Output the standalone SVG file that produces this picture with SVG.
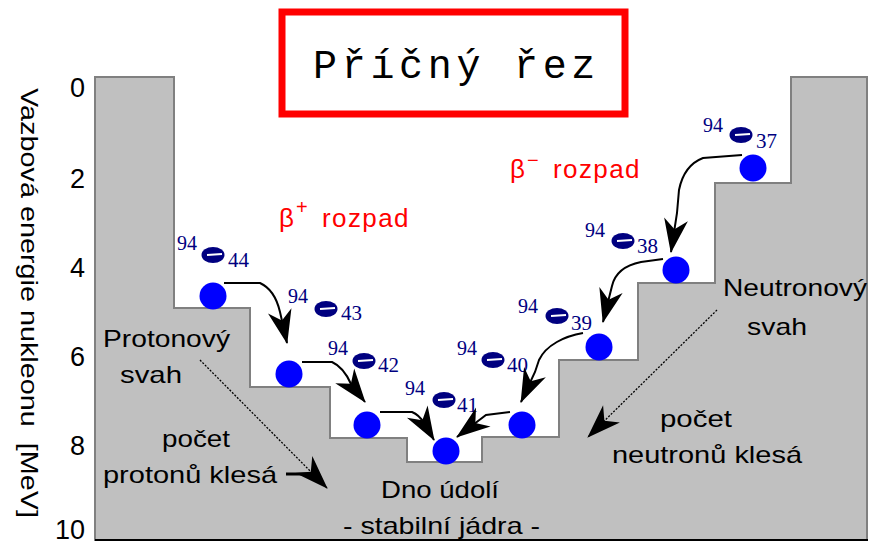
<svg xmlns="http://www.w3.org/2000/svg" width="872" height="544" viewBox="0 0 872 544">
<style>
.lbl{font-family:"Liberation Sans",Arial,sans-serif;font-size:24px;fill:#000}
.red{font-family:"Liberation Sans",Arial,sans-serif;font-size:26px;fill:#ff0000}
.axis{font-family:"Liberation Sans",Arial,sans-serif;font-size:27px;fill:#000;text-anchor:end}
.sup{font-family:"Liberation Serif","Times New Roman",serif;font-size:20px;fill:#000080}
.sub{font-family:"Liberation Serif","Times New Roman",serif;font-size:21px;fill:#000080}
.dot{fill:#0000ff}
.blob{fill:#000080}
.bar{stroke:#ffffff;stroke-width:2}
.arr{fill:none;stroke:#000;stroke-width:2;marker-end:url(#ah)}
.thin{fill:none;stroke:#000;stroke-width:1.3;stroke-dasharray:2 1.5;marker-end:url(#ah)}
</style>
<defs>
<marker id="ah" markerUnits="userSpaceOnUse" markerWidth="38" markerHeight="30" viewBox="-36 -15 38 30" refX="0" refY="0" orient="auto" overflow="visible">
<path d="M1,0 L-33,-12 L-23,0 L-33,12 Z" fill="#000"/>
</marker>
</defs>
<rect width="872" height="544" fill="#fff"/>
<g id="valley">
<path d="M95,77 H174 V308 H250 V387 H330 V438 H407 V462 H482 V437 H559 V360 H638 V283 H715 V183 H791 V77 H867 V540 H95 Z" fill="#c0c0c0" stroke="#808080" stroke-width="2"/>
<line x1="95" y1="540" x2="868" y2="540" stroke="#000" stroke-width="2"/>
</g>
<g id="title">
<rect x="282" y="12" width="343" height="102" fill="#fff" stroke="#ff0000" stroke-width="7"/>
<text x="313" y="78" font-family="Liberation Mono,'Courier New',monospace" font-size="40" letter-spacing="4.7" fill="#000">Příčný řez</text>
</g>
<g id="axis">
<text class="axis" x="85" y="97">0</text>
<text class="axis" x="85" y="188">2</text>
<text class="axis" x="85" y="277">4</text>
<text class="axis" x="85" y="366">6</text>
<text class="axis" x="85" y="455">8</text>
<text class="axis" x="85" y="539">10</text>
<text transform="translate(21,88) rotate(90)" xml:space="preserve" font-family="Liberation Sans,Arial,sans-serif" font-size="24" fill="#000" textLength="430" lengthAdjust="spacingAndGlyphs">Vazbová energie nukleonu  [MeV]</text>
</g>
<g id="decay-labels">
<text class="red" letter-spacing="1.4"><tspan x="279" y="227">β</tspan><tspan x="296" y="214" font-size="20">+</tspan><tspan x="322" y="227">rozpad</tspan></text>
<text class="red" letter-spacing="1.4"><tspan x="510" y="178">β</tspan><tspan x="527" y="167" font-size="20">−</tspan><tspan x="553" y="178">rozpad</tspan></text>
</g>
<g id="side-labels">
<text class="lbl" x="103" y="347" textLength="127" lengthAdjust="spacingAndGlyphs">Protonový</text>
<text class="lbl" x="120" y="383" textLength="62" lengthAdjust="spacingAndGlyphs">svah</text>
<text class="lbl" x="162" y="447" textLength="68" lengthAdjust="spacingAndGlyphs">počet</text>
<text class="lbl" x="103" y="483" textLength="174" lengthAdjust="spacingAndGlyphs">protonů klesá</text>
<text class="lbl" x="381" y="498" textLength="118" lengthAdjust="spacingAndGlyphs">Dno údolí</text>
<text class="lbl" x="343" y="534" textLength="197" lengthAdjust="spacingAndGlyphs">- stabilní jádra -</text>
<text class="lbl" x="723" y="296" textLength="144" lengthAdjust="spacingAndGlyphs">Neutronový</text>
<text class="lbl" x="747" y="335" textLength="60" lengthAdjust="spacingAndGlyphs">svah</text>
<text class="lbl" x="660" y="427" textLength="72" lengthAdjust="spacingAndGlyphs">počet</text>
<text class="lbl" x="612" y="463" textLength="190" lengthAdjust="spacingAndGlyphs">neutronů klesá</text>
</g>
<g id="n94-44">
<circle class="dot" cx="213" cy="296" r="13.5"/>
<text class="sup" x="177" y="250">94</text>
<ellipse class="blob" cx="213" cy="255" rx="11.5" ry="8"/><line class="bar" x1="207" y1="255" x2="222" y2="254"/>
<text class="sub" x="228" y="267">44</text>
</g>
<g id="n94-43">
<circle class="dot" cx="289" cy="374" r="13.5"/>
<text class="sup" x="288" y="303">94</text>
<ellipse class="blob" cx="326" cy="309" rx="11.5" ry="8"/><line class="bar" x1="320" y1="309" x2="335" y2="308"/>
<text class="sub" x="341" y="320">43</text>
</g>
<g id="n94-42">
<circle class="dot" cx="367" cy="425" r="13.5"/>
<text class="sup" x="328" y="355">94</text>
<ellipse class="blob" cx="364" cy="361" rx="11.5" ry="8"/><line class="bar" x1="358" y1="361" x2="373" y2="360"/>
<text class="sub" x="378" y="372">42</text>
</g>
<g id="n94-41">
<circle class="dot" cx="446" cy="451" r="13.5"/>
<text class="sup" x="405" y="395">94</text>
<ellipse class="blob" cx="444" cy="400" rx="11.5" ry="8"/><line class="bar" x1="438" y1="400" x2="453" y2="399"/>
<text class="sub" x="457" y="412">41</text>
</g>
<g id="n94-40">
<circle class="dot" cx="522" cy="425" r="13.5"/>
<text class="sup" x="457" y="355">94</text>
<ellipse class="blob" cx="493" cy="360" rx="11.5" ry="8"/><line class="bar" x1="487" y1="360" x2="502" y2="359"/>
<text class="sub" x="507" y="372">40</text>
</g>
<g id="n94-39">
<circle class="dot" cx="599" cy="347" r="13.5"/>
<text class="sup" x="518" y="313">94</text>
<ellipse class="blob" cx="557" cy="316" rx="11.5" ry="8"/><line class="bar" x1="551" y1="316" x2="566" y2="315"/>
<text class="sub" x="571" y="330">39</text>
</g>
<g id="n94-38">
<circle class="dot" cx="676" cy="270" r="13.5"/>
<text class="sup" x="585" y="237">94</text>
<ellipse class="blob" cx="623" cy="241" rx="11.5" ry="8"/><line class="bar" x1="617" y1="241" x2="632" y2="240"/>
<text class="sub" x="637" y="253">38</text>
</g>
<g id="n94-37">
<circle class="dot" cx="753" cy="168" r="13.5"/>
<text class="sup" x="703" y="132">94</text>
<ellipse class="blob" cx="741" cy="135" rx="11.5" ry="8"/><line class="bar" x1="735" y1="135" x2="750" y2="134"/>
<text class="sub" x="756" y="148">37</text>
</g>
<g id="connectors">
<path class="arr" d="M224,283 H260 C271,288 277,299 280,312 L287,343"/>
<path class="arr" d="M302,362 H332 C341,366 347,375 351,384 L365,402"/>
<path class="arr" d="M380,412 H412 C417,414 421,418 424,423 L434,440"/>
<path class="arr" d="M510,412 L486,415 L457,437"/>
<path class="arr" d="M583,333 C565,336 546,345 539,360 L535,372 L521,402"/>
<path class="arr" d="M663,259 L641,262 C626,265 615,273 612,286 L603,322"/>
<path class="arr" d="M742,155 L703,158 C690,163 682,175 679,190 L677,213 L671,252"/>
<path class="thin" d="M200,360 L327,488"/>
<line x1="286" y1="474" x2="308" y2="474" stroke="#000" stroke-width="3"/>
<path class="thin" d="M717,310 L588,437"/>
</g>
</svg>
